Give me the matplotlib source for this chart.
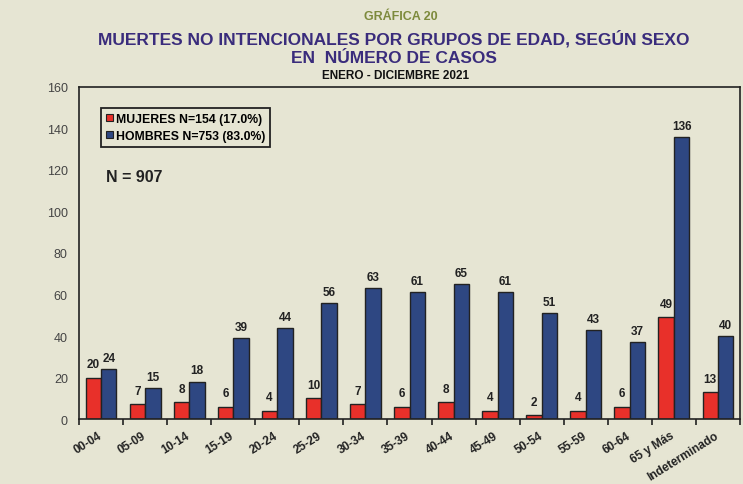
import numpy as np
import matplotlib
matplotlib.use("Agg")
import matplotlib.pyplot as plt
from matplotlib.patches import Patch

# ── Data ────────────────────────────────────────────────────────
grupos = ["00-04", "05-09", "10-14", "15-19", "20-24", "25-29", "30-34",
          "35-39", "40-44", "45-49", "50-54", "55-59", "60-64",
          "65 y Más", "Indeterminado"]
mujeres = [20, 7, 8, 6, 4, 10, 7, 6, 8, 4, 2, 4, 6, 49, 13]
hombres = [24, 15, 18, 39, 44, 56, 63, 61, 65, 61, 51, 43, 37, 136, 40]
y_ticks = [0, 20, 40, 60, 80, 100, 120, 140, 160]

# ── Colours ─────────────────────────────────────────────────────
BG = "#E6E5D3"
RED = "#E8302A"
BLUE = "#2E4782"
TITLE = "#3A2C7C"
OLIVE = "#7D8A3C"

plt.rcParams["font.family"] = ["Liberation Sans", "DejaVu Sans"]

fig = plt.figure(figsize=(7.43, 4.85), dpi=100, facecolor=BG)
ax = fig.add_axes([0.1063, 0.134, 0.8897, 0.6846], facecolor=BG)

x = np.arange(len(grupos))
w = 0.35
ax.bar(x - w / 2, mujeres, w, color=RED, edgecolor="#222222", lw=1.0, zorder=2)
ax.bar(x + w / 2, hombres, w, color=BLUE, edgecolor="#222222", lw=1.0, zorder=2)

for xi, v in zip(x - w / 2, mujeres):
    ax.text(xi, v + 3.5, str(v), ha="center", va="bottom", fontsize=8.5,
            fontweight="bold", color="#222222")
for xi, v in zip(x + w / 2, hombres):
    ax.text(xi, v + 2.5, str(v), ha="center", va="bottom", fontsize=8.5,
            fontweight="bold", color="#222222")

ax.set_xlim(-0.5, len(grupos) - 0.5)
ax.set_ylim(0, 160)
ax.set_yticks(y_ticks)
ax.set_yticklabels([str(t) for t in y_ticks], fontsize=9, color="#444444")
ax.tick_params(axis="y", length=0, pad=8)

# ticks between categories, labels at category centres
ax.set_xticks(np.arange(len(grupos) + 1) - 0.5)
ax.set_xticklabels([])
ax.tick_params(axis="x", length=4, width=1.2, color="#222222")
for xi, lab in zip(x, grupos):
    ax.text(xi - 0.08, -5, lab, rotation=32, ha="right", va="top",
            rotation_mode="anchor", fontsize=8.5, fontweight="bold",
            color="#222222")

for s in ax.spines.values():
    s.set_linewidth(1.2)
    s.set_color("#222222")

handles = [Patch(facecolor=RED, edgecolor="#222222", lw=0.8),
           Patch(facecolor=BLUE, edgecolor="#222222", lw=0.8)]
leg = ax.legend(handles, ["MUJERES N=154 (17.0%)", "HOMBRES N=753 (83.0%)"],
                loc="upper left", bbox_to_anchor=(0.024, 0.955),
                prop={"weight": "bold", "size": 8.8},
                handlelength=0.6, handleheight=0.6, handletextpad=0.25,
                labelspacing=0.4, borderpad=0.4, frameon=True,
                fancybox=False, facecolor=BG, framealpha=1.0)
leg.get_frame().set_edgecolor("#222222")
leg.get_frame().set_linewidth(1.3)

ax.text(0.041, 0.729, "N = 907", transform=ax.transAxes, fontsize=11.5,
        fontweight="bold", color="#222222", ha="left", va="center")

fig.text(0.54, 0.964, "GRÁFICA 20", ha="center", va="center", fontsize=9,
         fontweight="bold", color=OLIVE)
fig.text(0.53, 0.921, "MUERTES NO INTENCIONALES POR GRUPOS DE EDAD, SEGÚN SEXO",
         ha="center", va="center", fontsize=12.5, fontweight="bold", color=TITLE)
fig.text(0.53, 0.879, "EN  NÚMERO DE CASOS", ha="center", va="center",
         fontsize=12.5, fontweight="bold", color=TITLE)
fig.text(0.532, 0.843, "ENERO - DICIEMBRE 2021", ha="center", va="center",
         fontsize=8.5, fontweight="bold", color="#111111")

fig.savefig("out.png", dpi=100, facecolor=BG)
